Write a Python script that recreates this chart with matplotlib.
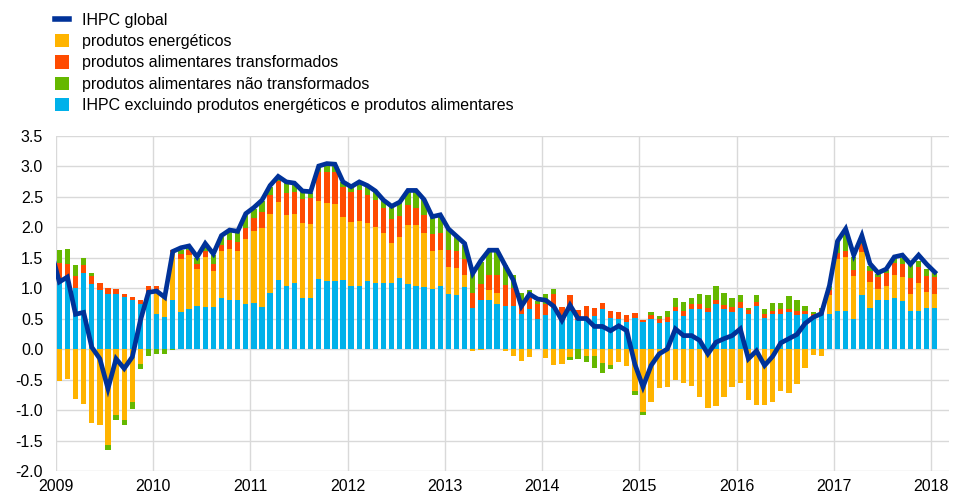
import matplotlib
matplotlib.use('Agg')
import numpy as np
import matplotlib.pyplot as plt
from matplotlib.lines import Line2D
from matplotlib.patches import Patch

plt.rcParams['font.family'] = ['Liberation Sans', 'DejaVu Sans']

years = list(range(2009, 2019))

# IHPC global, % yoy, Jan 2009 .. Jan 2018 (Dec 2008 kept only for the line start)
hicp_dec_2008 = 1.6
hicp = [
    1.10, 1.18, 0.57, 0.60, 0.03, -0.16, -0.65, -0.16, -0.32, -0.13, 0.47, 0.93,
    0.95, 0.85, 1.60, 1.66, 1.69, 1.51, 1.73, 1.56, 1.86, 1.95, 1.93, 2.22,
    2.32, 2.44, 2.68, 2.83, 2.74, 2.72, 2.59, 2.58, 3.00, 3.04, 3.03, 2.74,
    2.66, 2.74, 2.68, 2.59, 2.44, 2.34, 2.41, 2.60, 2.60, 2.45, 2.17, 2.20,
    1.97, 1.85, 1.73, 1.24, 1.45, 1.62, 1.62, 1.37, 1.13, 0.70, 0.90, 0.82,
    0.80, 0.70, 0.47, 0.72, 0.50, 0.50, 0.37, 0.37, 0.30, 0.38, 0.30, -0.25,
    -0.62, -0.27, -0.08, 0.00, 0.33, 0.22, 0.22, 0.14, -0.08, 0.11, 0.17, 0.22,
    0.33, -0.16, -0.03, -0.27, -0.12, 0.10, 0.17, 0.24, 0.42, 0.52, 0.58, 1.04,
    1.77, 1.97, 1.54, 1.86, 1.40, 1.25, 1.31, 1.51, 1.54, 1.39, 1.54, 1.39,
    1.26,
]

# contributions, percentage points
core = [
    1.10, 1.12, 1.00, 1.24, 1.07, 0.97, 0.91, 0.91, 0.86, 0.81, 0.73, 0.93,
    0.57, 0.52, 0.81, 0.61, 0.65, 0.70, 0.69, 0.69, 0.83, 0.80, 0.80, 0.74,
    0.75, 0.69, 0.92, 1.13, 1.03, 1.08, 0.83, 0.83, 1.14, 1.11, 1.11, 1.13,
    1.04, 1.04, 1.11, 1.08, 1.09, 1.08, 1.16, 1.06, 1.03, 1.02, 0.98, 1.03,
    0.91, 0.89, 1.02, 0.68, 0.81, 0.80, 0.74, 0.70, 0.70, 0.57, 0.65, 0.49,
    0.56, 0.68, 0.47, 0.62, 0.47, 0.47, 0.54, 0.65, 0.51, 0.49, 0.45, 0.51,
    0.44, 0.49, 0.43, 0.44, 0.62, 0.54, 0.65, 0.65, 0.61, 0.73, 0.65, 0.61,
    0.67, 0.57, 0.71, 0.51, 0.58, 0.58, 0.60, 0.56, 0.57, 0.54, 0.57, 0.57,
    0.62, 0.63, 0.49, 0.88, 0.67, 0.80, 0.81, 0.83, 0.78, 0.62, 0.63, 0.67,
    0.68,
]
energy = [
    -0.53, -0.49, -0.82, -0.90, -1.22, -1.25, -1.58, -1.08, -1.16, -0.87, -0.24, 0.00,
    0.37, 0.32, 0.78, 0.86, 0.89, 0.61, 0.82, 0.59, 0.77, 0.84, 0.80, 1.07,
    1.19, 1.30, 1.30, 1.28, 1.16, 1.13, 1.23, 1.22, 1.29, 1.28, 1.27, 1.04,
    1.05, 1.06, 0.95, 0.92, 0.81, 0.66, 0.68, 0.98, 1.00, 0.88, 0.63, 0.59,
    0.44, 0.44, 0.19, -0.03, -0.02, 0.17, 0.18, -0.04, -0.12, -0.20, -0.13, 0.00,
    -0.14, -0.27, -0.24, -0.13, 0.00, -0.12, -0.12, -0.23, -0.27, -0.22, -0.28, -0.69,
    -1.03, -0.87, -0.64, -0.62, -0.51, -0.55, -0.61, -0.78, -0.96, -0.93, -0.79, -0.62,
    -0.56, -0.84, -0.92, -0.92, -0.87, -0.69, -0.72, -0.58, -0.31, -0.09, -0.11, 0.31,
    0.85, 0.88, 0.70, 0.71, 0.43, 0.18, 0.23, 0.38, 0.40, 0.29, 0.45, 0.27,
    0.22,
]
processed_food = [
    0.31, 0.27, 0.19, 0.14, 0.13, 0.12, 0.09, 0.07, 0.05, 0.04, 0.07, 0.11,
    0.09, 0.07, 0.03, 0.08, 0.08, 0.09, 0.09, 0.11, 0.10, 0.14, 0.15, 0.18,
    0.21, 0.25, 0.31, 0.35, 0.37, 0.37, 0.40, 0.43, 0.47, 0.52, 0.52, 0.49,
    0.48, 0.50, 0.47, 0.45, 0.41, 0.39, 0.34, 0.32, 0.29, 0.29, 0.28, 0.28,
    0.27, 0.27, 0.26, 0.24, 0.26, 0.25, 0.30, 0.35, 0.30, 0.12, 0.27, 0.25,
    0.18, 0.22, 0.22, 0.26, 0.17, 0.23, 0.14, 0.11, 0.12, 0.11, 0.10, 0.08,
    0.04, 0.07, 0.07, 0.08, 0.07, 0.08, 0.08, 0.08, 0.07, 0.07, 0.07, 0.08,
    0.10, 0.07, 0.06, 0.07, 0.05, 0.07, 0.06, 0.06, 0.05, 0.04, 0.07, 0.08,
    0.10, 0.10, 0.11, 0.13, 0.18, 0.20, 0.21, 0.20, 0.22, 0.26, 0.26, 0.26,
    0.28,
]
unprocessed_food = [
    0.21, 0.25, 0.19, 0.11, 0.05, 0.00, -0.07, -0.08, -0.08, -0.11, -0.09, -0.11,
    -0.08, -0.08, -0.02, 0.07, 0.05, 0.10, 0.12, 0.15, 0.14, 0.16, 0.17, 0.21,
    0.15, 0.18, 0.13, 0.06, 0.16, 0.12, 0.11, 0.08, 0.08, 0.11, 0.11, 0.08,
    0.09, 0.12, 0.14, 0.14, 0.12, 0.21, 0.22, 0.22, 0.26, 0.26, 0.27, 0.29,
    0.35, 0.25, 0.24, 0.34, 0.36, 0.38, 0.38, 0.32, 0.21, 0.23, 0.04, 0.05,
    0.16, 0.08, 0.00, -0.05, -0.16, -0.09, -0.19, -0.17, -0.06, 0.00, 0.01, -0.07,
    -0.05, 0.04, 0.04, 0.10, 0.15, 0.15, 0.10, 0.17, 0.20, 0.23, 0.20, 0.15,
    0.11, 0.04, 0.11, 0.08, 0.12, 0.11, 0.21, 0.19, 0.08, 0.02, 0.04, 0.07,
    0.20, 0.35, 0.21, 0.10, 0.08, 0.05, 0.04, 0.09, 0.10, 0.21, 0.11, 0.11,
    0.07,
]

labels = [
    'IHPC global',
    'produtos energéticos',
    'produtos alimentares transformados',
    'produtos alimentares não transformados',
    'IHPC excluindo produtos energéticos e produtos alimentares',
]
c_line = '#003299'
c_energy = '#FFB400'
c_proc = '#FF4B00'
c_unproc = '#65B800'
c_core = '#00B1EA'

fig = plt.figure(figsize=(9.55, 4.97), dpi=100)
ax = fig.add_axes([0.0583, 0.0523, 0.935, 0.675])

x = np.arange(len(hicp))
pos = np.zeros(len(x))
neg = np.zeros(len(x))
for vals, col in [(core, c_core), (energy, c_energy),
                  (processed_food, c_proc), (unprocessed_food, c_unproc)]:
    v = np.array(vals)
    bottom = np.where(v >= 0, pos, neg)
    ax.bar(x, v, width=0.66, bottom=bottom, color=col, linewidth=0, zorder=2)
    pos = pos + np.where(v >= 0, v, 0)
    neg = neg + np.where(v < 0, v, 0)

xl = np.arange(-1, len(hicp))
ax.plot(xl, [hicp_dec_2008] + hicp, color=c_line, lw=3.4, zorder=3,
        solid_joinstyle='miter')

ax.set_xlim(-0.45, 109.7)
ax.set_ylim(-2.0, 3.5)
ax.set_yticks(np.arange(-2.0, 3.51, 0.5))
ax.set_yticklabels(['%.1f' % t for t in np.arange(-2.0, 3.51, 0.5)])
ax.set_xticks([12 * k - 0.45 for k in range(len(years))])
ax.set_xticklabels([str(y) for y in years])
ax.grid(True, color='#d9d9d9', lw=1.0, zorder=0)
ax.set_axisbelow(True)
for s in ax.spines.values():
    s.set_visible(False)
ax.tick_params(length=0, labelsize=11.5, colors='black')
ax.tick_params(axis='y', pad=9)
ax.tick_params(axis='x', pad=6)

handles = [Line2D([0], [0], color=c_line, lw=4)]
handles += [Patch(facecolor=c, edgecolor='none') for c in [c_energy, c_proc, c_unproc, c_core]]
fig.legend(handles, labels, loc='upper left', bbox_to_anchor=(0.0576, 0.974),
           frameon=False, fontsize=11.5, handlelength=0.9, handleheight=0.9,
           handletextpad=0.8, labelspacing=0.38, borderaxespad=0, borderpad=0)

fig.savefig('out.png', dpi=100)
